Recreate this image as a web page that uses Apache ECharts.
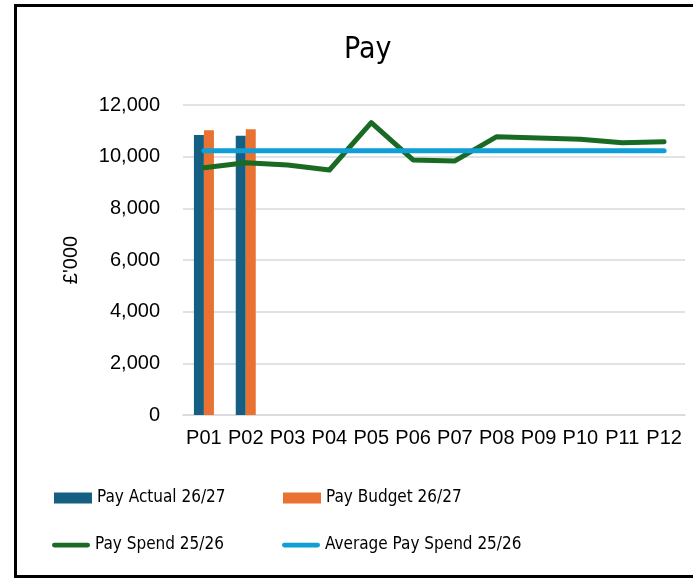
<!DOCTYPE html>
<html>
<head>
<meta charset="utf-8">
<script src="https://cdn.jsdelivr.net/npm/echarts@6/dist/echarts.min.js"></script>
<style>
html,body{margin:0;padding:0;background:#fff;}
#c{width:693px;height:579px;}
</style>
</head>
<body>
<div id="c"></div>
<script>
var categories = ['P01','P02','P03','P04','P05','P06','P07','P08','P09','P10','P11','P12'];
var payActual = [10840, 10810, null, null, null, null, null, null, null, null, null, null];
var payBudget = [11020, 11060, null, null, null, null, null, null, null, null, null, null];
var paySpend = [9575, 9768, 9680, 9485, 11317, 9872, 9834, 10775, 10724, 10672, 10543, 10582];
var avgPaySpend = [10232, 10232, 10232, 10232, 10232, 10232, 10232, 10232, 10232, 10232, 10232, 10232];
var yTicks = [0, 2000, 4000, 6000, 8000, 10000, 12000];

var narrow = '"DejaVu Sans Condensed", "Liberation Sans Narrow", sans-serif';
var C_ACT = '#156082', C_BUD = '#E97132', C_SP = '#196B24', C_AVG = '#0F9ED5';
var lineIcon = 'path://M2.5,0 L37.5,0 A2.5,2.5 0 0 1 37.5,5 L2.5,5 A2.5,2.5 0 0 1 2.5,0 Z';

var chart = echarts.init(document.getElementById('c'));
function leg(name, left, top, icon, h) {
  return {
    left: left, top: top, itemWidth: 38, itemHeight: h, itemGap: 0,
    icon: icon,
    data: [{name: name}],
    textStyle: {fontFamily: narrow, fontSize: 17, color: '#000'},
    selectedMode: false
  };
}
chart.setOption({
  animation: false,
  title: {
    text: 'Pay', left: 339, top: 30,
    textStyle: {fontFamily: narrow, fontSize: 30, fontWeight: 'normal', color: '#000'}
  },
  graphic: [{
    type: 'rect', shape: {x: 15.5, y: 5.5, width: 700, height: 571},
    style: {fill: null, stroke: '#000', lineWidth: 3}, silent: true
  }],
  legend: [
    leg('Pay Actual 26/27', 49, 484.5, 'rect', 11),
    leg('Pay Budget 26/27', 278, 484.5, 'rect', 11),
    leg('Pay Spend 25/26', 47, 531.5, lineIcon, 5),
    leg('Average Pay Spend 25/26', 277, 531.5, lineIcon, 5)
  ],
  grid: {left: 183, right: 8, top: 105, height: 310, containLabel: false},
  xAxis: {
    type: 'category', data: categories,
    axisLine: {lineStyle: {color: '#d9d9d9', width: 1.5}},
    axisTick: {show: false},
    axisLabel: {color: '#000', fontSize: 20, fontFamily: '"Liberation Sans", Arial, sans-serif', margin: 13, interval: 0}
  },
  yAxis: {
    type: 'value', min: yTicks[0], max: yTicks[yTicks.length - 1], interval: 2000,
    name: "£'000", nameLocation: 'middle', nameRotate: 90, nameGap: 102,
    nameTextStyle: {color: '#000', fontSize: 20, fontFamily: '"Liberation Sans", Arial, sans-serif'},
    axisLine: {show: false}, axisTick: {show: false},
    axisLabel: {color: '#000', fontSize: 20, fontFamily: '"Liberation Sans", Arial, sans-serif', margin: 23,
      formatter: function (v) { return v.toLocaleString('en-GB'); }},
    splitLine: {lineStyle: {color: '#d9d9d9', width: 1.5}}
  },
  series: [
    {name: 'Pay Actual 26/27', type: 'bar', data: payActual, barWidth: 10, barGap: '0%', itemStyle: {color: C_ACT}},
    {name: 'Pay Budget 26/27', type: 'bar', data: payBudget, barWidth: 10, barGap: '0%', itemStyle: {color: C_BUD}},
    {name: 'Pay Spend 25/26', type: 'line', data: paySpend, symbol: 'none', itemStyle: {color: C_SP},
      lineStyle: {color: C_SP, width: 5, cap: 'round', join: 'round'}},
    {name: 'Average Pay Spend 25/26', type: 'line', data: avgPaySpend, symbol: 'none', itemStyle: {color: C_AVG},
      lineStyle: {color: C_AVG, width: 5, cap: 'round', join: 'round'}}
  ]
});
</script>
</body>
</html>
